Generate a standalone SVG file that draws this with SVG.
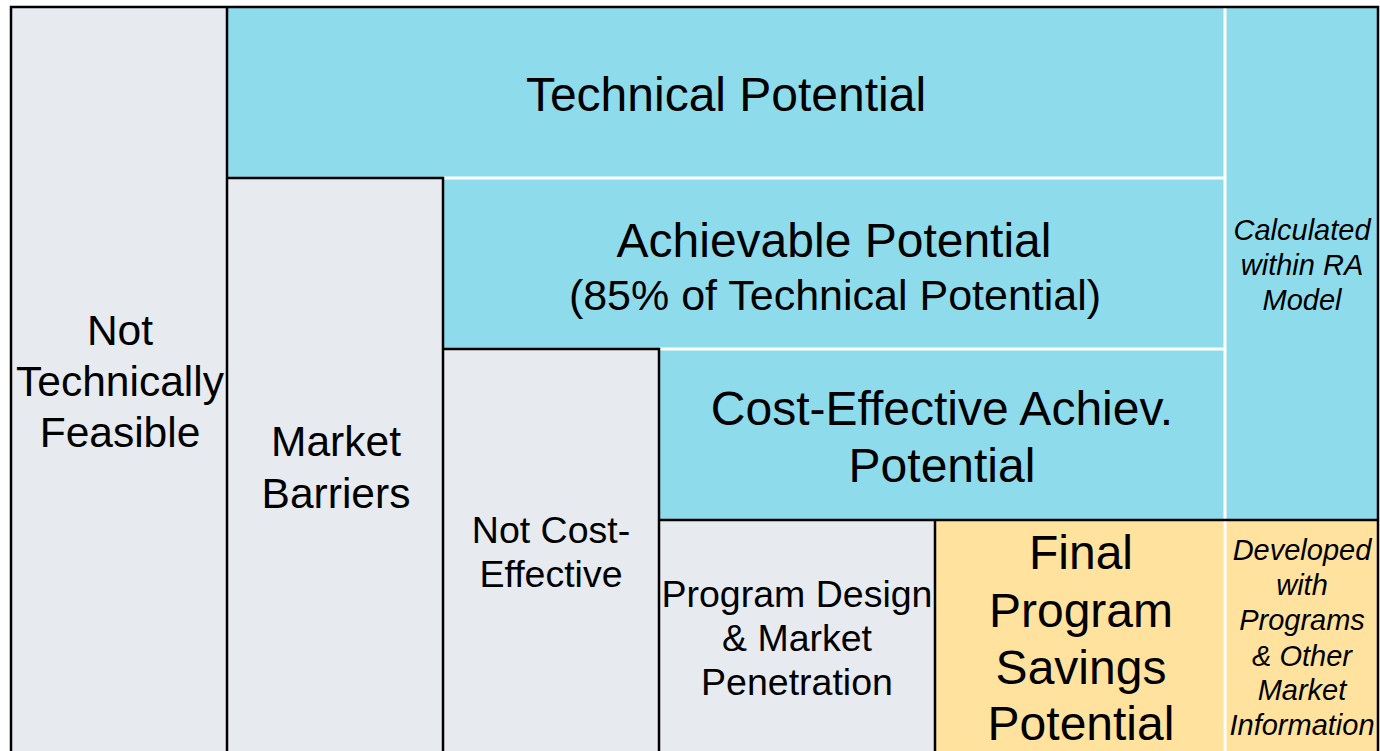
<svg xmlns="http://www.w3.org/2000/svg" width="1380" height="751" viewBox="0 0 1380 751">
<style>
.gray{fill:#E7EAEF}
.blue{fill:#8EDBEB}
.yel{fill:#FFE29E}
.blk{stroke:#000;stroke-width:2.5;fill:none}
.wht{stroke:#fff;stroke-width:3;fill:none}
text{font-family:"Liberation Sans",Arial,sans-serif;fill:#000;text-anchor:middle}
.it{font-style:italic;font-size:29px}
</style>
<rect x="0" y="0" width="1380" height="751" fill="#fff"/>
<g id="not-technically-feasible">
<rect class="gray" x="11" y="7" width="216" height="744"/>
<text font-size="42.5"><tspan x="120" y="345">Not</tspan><tspan x="120" y="396">Technically</tspan><tspan x="120" y="447">Feasible</tspan></text>
</g>
<g id="technical-potential">
<rect class="blue" x="227" y="7" width="998" height="171"/>
<text font-size="48" x="726" y="111">Technical Potential</text>
</g>
<g id="market-barriers">
<rect class="gray" x="227" y="178" width="216" height="573"/>
<text font-size="42.5"><tspan x="336" y="456">Market</tspan><tspan x="336" y="508">Barriers</tspan></text>
</g>
<g id="achievable-potential">
<rect class="blue" x="443" y="178" width="782" height="171"/>
<text font-size="48" x="834" y="257">Achievable Potential</text>
<text font-size="43" x="835" y="310">(85% of Technical Potential)</text>
</g>
<g id="not-cost-effective">
<rect class="gray" x="443" y="349" width="216" height="402"/>
<text font-size="37.5"><tspan x="551" y="543">Not Cost-</tspan><tspan x="551" y="587">Effective</tspan></text>
</g>
<g id="cost-effective-achievable">
<rect class="blue" x="659" y="349" width="566" height="171"/>
<text font-size="48"><tspan x="942" y="425">Cost-Effective Achiev.</tspan><tspan x="942" y="482">Potential</tspan></text>
</g>
<g id="program-design">
<rect class="gray" x="659" y="520" width="276" height="231"/>
<text font-size="37.5"><tspan x="797" y="607">Program Design</tspan><tspan x="797" y="651">&amp; Market</tspan><tspan x="797" y="695">Penetration</tspan></text>
</g>
<g id="final-program-savings">
<rect class="yel" x="935" y="520" width="290" height="231"/>
<text font-size="48"><tspan x="1081" y="569">Final</tspan><tspan x="1081" y="627">Program</tspan><tspan x="1081" y="684">Savings</tspan><tspan x="1081" y="740">Potential</tspan></text>
</g>
<g id="calculated-within-ra">
<rect class="blue" x="1225" y="7" width="153" height="513"/>
<text class="it"><tspan x="1302" y="240">Calculated</tspan><tspan x="1302" y="275">within RA</tspan><tspan x="1302" y="310">Model</tspan></text>
</g>
<g id="developed-with-programs">
<rect class="yel" x="1225" y="520" width="153" height="231"/>
<text class="it"><tspan x="1302" y="560">Developed</tspan><tspan x="1302" y="595">with</tspan><tspan x="1302" y="630">Programs</tspan><tspan x="1302" y="666">&amp; Other</tspan><tspan x="1302" y="700">Market</tspan><tspan x="1302" y="735">Information</tspan></text>
</g>
<g id="connectors">
<path class="wht" d="M443 178H1225M659 349H1225M1225 7V751"/>
<path class="blk" d="M11 751V7H1378V751M227 7V751M227 178H443V751M443 349H659V751M659 520H1378M935 520V751"/>
</g>
</svg>
